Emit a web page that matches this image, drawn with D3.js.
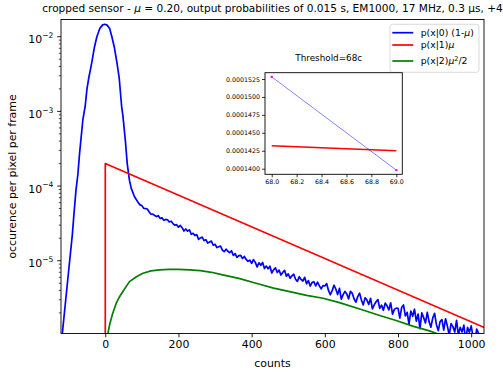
<!DOCTYPE html>
<html><head><meta charset="utf-8">
<script src="https://cdn.jsdelivr.net/npm/d3@7"></script>
<style>
body{margin:0;background:#fff}
svg{display:block}
text{font-family:"DejaVu Sans",sans-serif;fill:#000}
</style>
</head><body>
<svg id="c" width="503" height="381"></svg>
<script>
// ---------- data ----------
const xTicks = [0, 200, 400, 600, 800, 1000];
const yMajorTicks = [1e-2, 1e-3, 1e-4, 1e-5];
const yMajorExp = ["\u22122", "\u22123", "\u22124", "\u22125"];

// p(x|0)(1-mu): read-noise peak and flank
const blueCoreCounts = [-125, -117.5, -100, -90, -86, -80, -75, -70, -61, -55, -50, -45, -37, -30, -23, -15, -8, -2, 5, 12, 18, 25, 32, 38, 45, 48, 55, 60, 66, 71, 80, 90, 95];
const blueCoreValues = [4.6e-7, 1.05e-6, 7.4e-6, 2.24e-5, 3.98e-5, 8.9e-5, 1.41e-4, 2.82e-4, 7.9e-4, 1.17e-3, 2.0e-3, 2.82e-3, 4.47e-3, 7.1e-3, 1.0e-2, 1.29e-2, 1.43e-2, 1.466e-2, 1.43e-2, 1.29e-2, 1.0e-2, 7.1e-3, 4.47e-3, 2.82e-3, 1.12e-3, 8.9e-4, 4.0e-4, 2.0e-4, 1.2e-4, 9.3e-5, 7.2e-5, 6.0e-5, 5.6e-5];
// p(x|0)(1-mu): noisy histogram tail, one value every 5 counts from 100, in units of 1e-6
const tailStart = 100, tailStep = 5, tailUnit = 1e-6;
const blueTailValues = [
 54.7,50.4,49.9,49.3,45.0,41.9,42.1,40.3,39.0,40.1,36.7,37.6,34.8,35.7,35.4,33.0,33.8,31.5,29.9,30.4,
 28.1,29.7,27.7,25.0,26.6,24.9,25.9,22.6,23.3,21.7,22.4,19.3,20.2,20.7,18.6,19.1,17.2,17.8,18.3,16.1,
 16.6,15.0,15.4,15.7,13.9,13.2,14.3,13.4,12.8,13.6,11.8,12.4,11.1,11.7,11.8,10.7,11.4,10.4,9.79,10.2,
 9.25,10.35,9.50,8.26,9.38,8.70,9.47,7.86,8.48,7.79,8.45,6.85,7.55,8.04,6.94,7.48,6.43,6.94,7.44,6.19,
 6.67,5.83,6.27,6.59,5.66,5.28,6.10,5.62,5.35,5.99,4.91,5.41,4.58,5.09,5.23,4.60,5.17,4.60,4.21,4.64,
 4.59,4.94,4.00,3.50,3.97,4.70,4.18,3.52,4.26,3.06,3.51,3.88,3.59,3.08,3.90,3.66,3.07,2.79,3.31,3.68,
 2.97,2.56,3.19,2.97,2.60,3.14,2.27,2.56,2.82,3.02,2.30,2.54,2.17,2.70,2.49,2.19,2.73,1.93,2.23,2.32,
 2.31,1.70,2.37,2.56,1.83,2.04,1.42,2.12,1.80,2.24,1.55,1.93,1.23,2.01,1.73,1.47,2.03,1.52,1.29,1.72,
 1.97,1.39,1.16,1.53,1.63,1.18,1.67,1.33,1.01,1.44,1.31,1.11,1.59,1.01,1.28,1.11,1.37,0.84,1.28,1.10,
 1.34,0.96,0.81,1.21,1.07,0.85,1.00];

// p(x|1)mu
const redCounts = [0, 0, 1040];
const redValues = [1e-8, 2.0e-4, 1.25e-6];

// p(x|2)mu^2/2
const greenCounts = [2, 7, 12, 20, 30, 39, 50, 66, 85, 103, 125, 148, 175, 200, 230, 260, 290, 321, 365, 412, 460, 504, 550, 595, 640, 704, 750, 795, 840, 886, 904, 950, 1000, 1040];
const greenValues = [3.0e-7, 1.05e-6, 1.4e-6, 1.95e-6, 2.7e-6, 3.3e-6, 4.0e-6, 5.25e-6, 6.1e-6, 6.8e-6, 7.3e-6, 7.53e-6, 7.65e-6, 7.68e-6, 7.55e-6, 7.35e-6, 7.0e-6, 6.46e-6, 5.8e-6, 5.0e-6, 4.3e-6, 3.85e-6, 3.43e-6, 3.14e-6, 2.75e-6, 2.19e-6, 1.85e-6, 1.58e-6, 1.33e-6, 1.15e-6, 1.07e-6, 0.85e-6, 0.66e-6, 0.53e-6];

// inset (threshold = 68c)
const insetXTicks = [68.0, 68.2, 68.4, 68.6, 68.8, 69.0];
const insetYTicks = [0.00014, 0.0001425, 0.000145, 0.0001475, 0.00015, 0.0001525];
const insetCounts = [68, 69];
const insetBlue = [0.0001528, 0.0001398];
const insetRed = [0.0001432, 0.0001425];

const legendLabels = ["p(x|0) (1-", "p(x|1)", "p(x|2)"];
const seriesColors = ["#0000ff", "#ff0000", "#008000"];

// ---------- drawing ----------
const svg = d3.select("#c");
const M = {l: 61, r: 484, t: 19.5, b: 333.5};

const x = d3.scaleLinear().domain([-121, 1035]).range([M.l, M.r]);
const y = d3.scaleLog().domain([1.06e-6, 0.0170]).range([M.b, M.t]);

svg.append("defs").append("clipPath").attr("id", "clipMain")
  .append("rect").attr("x", M.l).attr("y", M.t).attr("width", M.r - M.l).attr("height", M.b - M.t);

const line = d3.line().x(d => x(d[0])).y(d => y(d[1]));

const blueData = blueCoreCounts.map((c, i) => [c, blueCoreValues[i]])
  .concat(blueTailValues.map((v, i) => [tailStart + i * tailStep, v * tailUnit]));
const redData = redCounts.map((c, i) => [c, redValues[i]]);
const greenData = greenCounts.map((c, i) => [c, greenValues[i]]);

const gp = svg.append("g").attr("clip-path", "url(#clipMain)");
[blueData, redData, greenData].forEach((d, i) => {
  gp.append("path").attr("d", line(d)).attr("fill", "none")
    .attr("stroke", seriesColors[i]).attr("stroke-width", 1.7).attr("stroke-linejoin", "round");
});

// axes frame
svg.append("rect").attr("x", M.l).attr("y", M.t).attr("width", M.r - M.l).attr("height", M.b - M.t)
  .attr("fill", "none").attr("stroke", "#000").attr("stroke-width", 0.9);

// x axis
const xAxis = d3.axisBottom(x).tickValues(xTicks).tickSize(3.8).tickPadding(3).tickFormat(d3.format("d"));
const gx = svg.append("g").attr("transform", `translate(0,${M.b})`).call(xAxis);
gx.select(".domain").remove();
gx.selectAll("line").attr("stroke", "#000").attr("stroke-width", 0.9);
gx.selectAll("text").attr("font-size", 10.9).attr("font-family", "DejaVu Sans").attr("fill", "#000");

// y axis (log)
const minorTicks = [];
for (let e = -6; e <= -2; e++) for (let m = 2; m <= 9; m++) {
  const v = m * Math.pow(10, e);
  if (v > y.domain()[0] && v < y.domain()[1]) minorTicks.push(v);
}
svg.append("g").selectAll("line").data(minorTicks).join("line")
  .attr("x1", M.l - 2.2).attr("x2", M.l).attr("y1", d => y(d)).attr("y2", d => y(d))
  .attr("stroke", "#000").attr("stroke-width", 0.7);
const gy = svg.append("g");
gy.selectAll("line").data(yMajorTicks).join("line")
  .attr("x1", M.l - 3.8).attr("x2", M.l).attr("y1", d => y(d)).attr("y2", d => y(d))
  .attr("stroke", "#000").attr("stroke-width", 0.9);
yMajorTicks.forEach((v, i) => {
  const t = gy.append("text").attr("x", M.l - 7.6).attr("y", y(v) + 6.6).attr("text-anchor", "end").attr("font-size", 10.9);
  t.append("tspan").text("10");
  t.append("tspan").attr("dy", -5.2).attr("font-size", 7.6).text(yMajorExp[i]);
});

// axis labels
svg.append("text").attr("x", (M.l + M.r) / 2).attr("y", 367).attr("text-anchor", "middle")
  .attr("font-size", 10.9).text("counts");
svg.append("text").attr("transform", `translate(16,${(M.t + M.b) / 2}) rotate(-90)`)
  .attr("text-anchor", "middle").attr("font-size", 10.9).text("occurence per pixel per frame");

// title
const title = svg.append("text").attr("x", (M.l + M.r) / 2).attr("y", 12).attr("text-anchor", "middle").attr("font-size", 10);
title.append("tspan").text("cropped sensor - ");
title.append("tspan").attr("font-style", "italic").text("\u03bc");
title.append("tspan").text(" = 0.20, output probabilities of 0.015 s, EM1000, 17 MHz, 0.3 \u00b5s, +4");
const tw = title.node().getComputedTextLength();
title.attr("font-size", 10 * 461 / tw);

// legend
const lg = svg.append("g");
lg.append("rect").attr("x", 390).attr("y", 24.3).attr("width", 89).attr("height", 48).attr("rx", 2.5)
  .attr("fill", "#fff").attr("fill-opacity", 0.8).attr("stroke", "#d0d0d0").attr("stroke-width", 0.8);
const legendY = [32.7, 45, 61];
legendLabels.forEach((lab, i) => {
  lg.append("line").attr("x1", 392.3).attr("x2", 413.3).attr("y1", legendY[i]).attr("y2", legendY[i])
    .attr("stroke", seriesColors[i]).attr("stroke-width", 1.7);
  const t = lg.append("text").attr("x", 420.7).attr("y", legendY[i] + 3.4).attr("font-size", 9.3);
  t.append("tspan").text(lab);
  t.append("tspan").attr("font-style", "italic").text("\u03bc");
  if (i === 0) t.append("tspan").text(")");
  if (i === 2) {
    t.append("tspan").attr("dy", -3.8).attr("font-size", 6.5).text("2");
    t.append("tspan").attr("dy", 3.8).text("/2");
  }
});

// inset
const I = {l: 265, r: 402.3, t: 72.7, b: 174.3};
const ix = d3.scaleLinear().domain([67.946, 69.048]).range([I.l, I.r]);
const iy = d3.scaleLinear().domain([0.00013922, 0.00015338]).range([I.b, I.t]);
const gi = svg.append("g");
gi.append("rect").attr("x", I.l).attr("y", I.t).attr("width", I.r - I.l).attr("height", I.b - I.t).attr("fill", "#fff");
const iline = d3.line().x(d => ix(d[0])).y(d => iy(d[1]));
const iBlue = insetCounts.map((c, i) => [c, insetBlue[i]]);
const iRed = insetCounts.map((c, i) => [c, insetRed[i]]);
gi.append("path").attr("d", iline(iRed)).attr("fill", "none").attr("stroke", "#ff0000").attr("stroke-width", 1.7);
gi.append("path").attr("d", iline(iBlue)).attr("fill", "none").attr("stroke", "#0000ff").attr("stroke-opacity", 0.55).attr("stroke-width", 0.9);
gi.selectAll("rect.m").data(iBlue).join("rect").attr("class", "m")
  .attr("x", d => ix(d[0]) - 1.1).attr("y", d => iy(d[1]) - 1.1).attr("width", 2.2).attr("height", 2.2).attr("fill", "#ff00ff");
gi.append("rect").attr("x", I.l).attr("y", I.t).attr("width", I.r - I.l).attr("height", I.b - I.t)
  .attr("fill", "none").attr("stroke", "#000").attr("stroke-width", 0.9);
const ixAxis = d3.axisBottom(ix).tickValues(insetXTicks).tickSize(3).tickPadding(2).tickFormat(d3.format(".1f"));
const gix = gi.append("g").attr("transform", `translate(0,${I.b})`).call(ixAxis);
gix.select(".domain").remove();
gix.selectAll("line").attr("stroke", "#000").attr("stroke-width", 0.8);
gix.selectAll("text").attr("font-size", 6.3).attr("font-family", "DejaVu Sans").attr("fill", "#000");
const iyAxis = d3.axisLeft(iy).tickValues(insetYTicks).tickSize(3).tickPadding(2).tickFormat(d3.format(".7f"));
const giy = gi.append("g").attr("transform", `translate(${I.l},0)`).call(iyAxis);
giy.select(".domain").remove();
giy.selectAll("line").attr("stroke", "#000").attr("stroke-width", 0.8);
giy.selectAll("text").attr("font-size", 6.3).attr("font-family", "DejaVu Sans").attr("fill", "#000");
gi.append("text").attr("x", 328.7).attr("y", 61).attr("text-anchor", "middle").attr("font-size", 8.8).text("Threshold=68c");
</script>
</body></html>
